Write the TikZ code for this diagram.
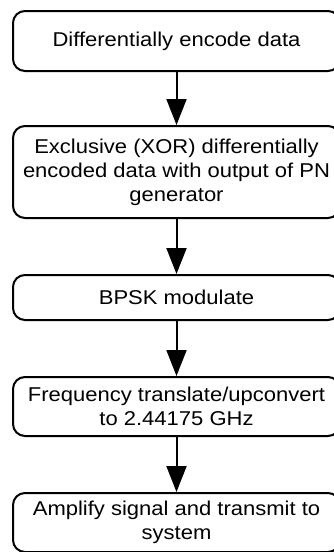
\documentclass[tikz,border=0pt]{standalone}
\usepackage{fontspec}
\setmainfont[FakeStretch=1.1]{Liberation Sans}
\usetikzlibrary{arrows.meta}
\begin{document}
\begin{tikzpicture}[x=1pt,y=-1pt,
  stepbox/.style={draw, line width=2pt, rounded corners=12pt, minimum width=327pt,
    align=center, inner sep=0pt, font=\fontsize{20}{24}\selectfont},
  flow/.style={line width=2pt, -{Triangle[length=26pt,width=20pt]}}]
\useasboundingbox (0,0) rectangle (334,552);
\clip (0,0) rectangle (334,552);
\node[stepbox, minimum height=60pt] (a) at (176.5,41) {Differentially encode data};
\node[stepbox, minimum height=92pt] (b) at (176.5,172) {Exclusive (XOR) differentially\\encoded data with output of PN\\generator};
\node[stepbox, minimum height=45pt] (c) at (176.5,297.5) {BPSK modulate};
\node[stepbox, minimum height=59pt] (d) at (176.5,406.5) {Frequency translate/upconvert\\to 2.44175 GHz};
\node[stepbox, minimum height=59pt] (e) at (176.5,522.5) {Amplify signal and transmit to\\system};
\draw[flow] (a) -- (b);
\draw[flow] (b) -- (c);
\draw[flow] (c) -- (d);
\draw[flow] (d) -- (e);
\end{tikzpicture}
\end{document}
